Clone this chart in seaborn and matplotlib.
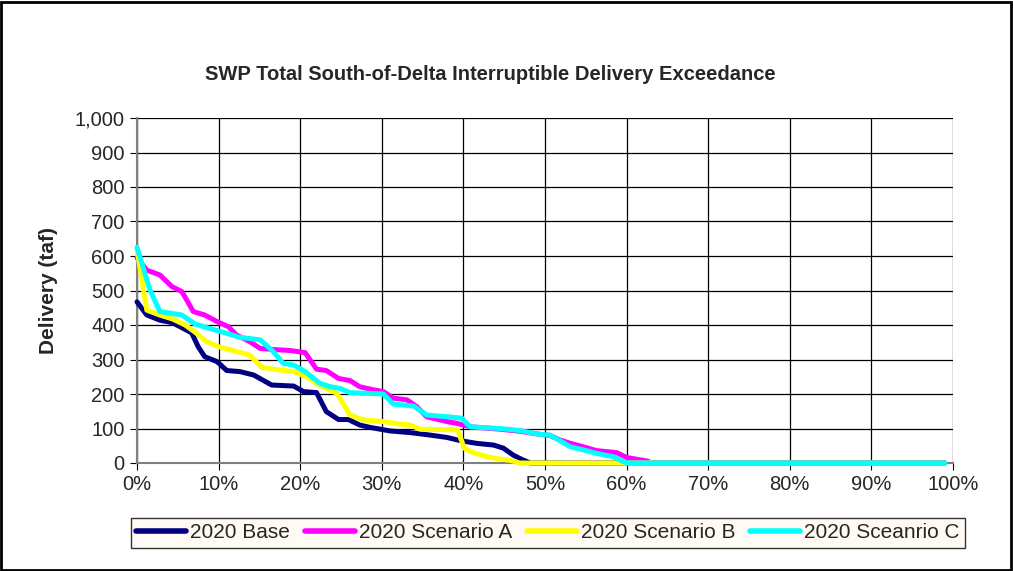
import pandas as pd
import numpy as np
import matplotlib
matplotlib.use("Agg")
import matplotlib.pyplot as plt
import matplotlib.ticker as mticker
from matplotlib.patches import Rectangle
import seaborn as sns

# exceedance (%) and delivery (taf)
base_x = [0.0, 1.2, 2.8, 4.3, 5.6, 6.7, 7.5, 8.3, 9.8, 11.0, 12.6, 14.3, 16.5, 19.2, 20.4,
          22.0, 23.2, 24.7, 25.9, 27.3, 28.6, 31.0, 33.5, 35.9, 38.0, 39.6, 41.6, 43.7,
          44.9, 46.1, 47.1, 48.2, 99.0]
base_y = [467, 429, 414, 407, 391, 377, 337, 308, 294, 268, 265, 255, 226, 223, 207,
          204, 149, 126, 126, 110, 103, 93, 88, 81, 74, 65, 57, 52,
          43, 23, 11, 0, 0]

scen_a_x = [0.0, 1.2, 2.8, 4.3, 5.5, 6.9, 8.3, 9.8, 11.2, 12.2, 13.8, 15.1, 16.7, 18.8,
            20.6, 22.0, 23.2, 24.7, 26.1, 27.3, 29.0, 30.2, 31.4, 33.1, 34.3, 35.5, 38.0,
            39.2, 40.8, 44.5, 46.9, 49.4, 50.6, 51.8, 53.1, 54.7, 56.3, 58.8, 60.0, 61.2,
            62.5, 63.1, 99.0]
scen_a_y = [595, 559, 545, 511, 497, 439, 429, 410, 395, 371, 352, 332, 329, 326,
            320, 272, 268, 245, 239, 221, 212, 207, 188, 183, 163, 134, 120,
            115, 105, 98, 92, 83, 80, 67, 57, 47, 36, 30, 16, 11,
            6, 0, 0]

scen_b_x = [0.0, 1.2, 2.8, 4.4, 5.9, 7.3, 8.5, 10.0, 11.4, 13.8, 15.3, 16.7, 19.2, 20.8,
            22.0, 23.2, 24.5, 26.1, 27.7, 30.2, 32.2, 33.5, 34.7, 39.3, 40.1, 41.2, 42.9,
            44.5, 45.7, 46.9, 99.0]
scen_b_y = [620, 443, 429, 417, 400, 376, 352, 337, 328, 313, 277, 272, 265, 250,
            231, 216, 202, 139, 125, 120, 113, 110, 98, 96, 43, 30, 18,
            11, 8, 0, 0]

scen_c_x = [0.0, 1.6, 2.8, 5.5, 7.1, 8.9, 11.0, 12.6, 15.1, 16.7, 17.9, 19.2, 20.6, 22.4,
            23.7, 24.9, 26.1, 30.2, 31.4, 33.9, 35.5, 38.0, 39.8, 40.8, 44.5, 46.9, 49.4,
            50.6, 51.8, 53.1, 54.7, 56.3, 58.4, 59.6, 60.2, 99.0]
scen_c_y = [625, 501, 439, 429, 403, 390, 376, 364, 357, 323, 289, 284, 265, 231,
            221, 216, 204, 200, 171, 165, 139, 134, 130, 105, 100, 94, 83,
            81, 65, 47, 38, 28, 18, 4, 0, 0]

series_names = ["2020 Base", "2020 Scenario A", "2020 Scenario B", "2020 Sceanrio C"]
colors = ["#000080", "#FF00FF", "#FFFF00", "#00FFFF"]

frames = []
for name, xs, ys in zip(series_names,
                        [base_x, scen_a_x, scen_b_x, scen_c_x],
                        [base_y, scen_a_y, scen_b_y, scen_c_y]):
    frames.append(pd.DataFrame({"pct": np.array(xs) / 100.0, "val": ys, "series": name}))
df = pd.concat(frames, ignore_index=True)

sns.set_style("white")
plt.rcParams["font.family"] = ["Liberation Sans", "DejaVu Sans"]

fig = plt.figure(figsize=(10.13, 5.71), dpi=100)
ax = fig.add_axes([137 / 1013, 1 - 463 / 571, (953 - 137) / 1013, (463 - 118) / 571])

sns.lineplot(data=df, x="pct", y="val", hue="series", hue_order=series_names,
             palette=colors, estimator=None, sort=False, linewidth=3.6, ax=ax)
for line in ax.get_lines():
    line.set_clip_on(False)
    line.set_zorder(5)

ax.set_xlim(0, 1)
ax.set_ylim(0, 1000)
ax.set_xticks(np.arange(0, 1.01, 0.1))
ax.set_yticks(np.arange(0, 1001, 100))
ax.xaxis.set_major_formatter(mticker.PercentFormatter(1.0, decimals=0))
ax.yaxis.set_major_formatter(mticker.FuncFormatter(lambda v, p: f"{int(v):,}"))
ax.grid(True, color="black", linewidth=0.9)
ax.set_axisbelow(True)
for side in ["top", "right"]:
    ax.spines[side].set_visible(False)
for side in ["left", "bottom"]:
    ax.spines[side].set_color("#808080")
    ax.spines[side].set_linewidth(1.5)
    ax.spines[side].set_zorder(2)
ax.tick_params(axis="both", labelsize=14.5, length=5, color="black", direction="out",
               left=True, bottom=True, pad=4)

ax.set_xlabel("")
ax.set_ylabel("Delivery (taf)", fontsize=15, fontweight="bold", labelpad=12)

fig.text(0.484, 1 - 75 / 571, "SWP Total South-of-Delta Interruptible Delivery Exceedance",
         ha="center", va="center", fontsize=14.5, fontweight="bold")

ax.get_legend().remove()
handles, labels = ax.get_legend_handles_labels()
leg = fig.legend(handles, labels, loc="center", bbox_to_anchor=(548 / 1013, 1 - 533 / 571),
                 ncol=4, fontsize=15, frameon=True, fancybox=False, handlelength=2.4,
                 handletextpad=0.2, columnspacing=0.7, borderpad=0.25, borderaxespad=0)
leg.get_frame().set_edgecolor("black")
leg.get_frame().set_facecolor("#FFFBF2")
leg.get_frame().set_linewidth(1.0)
for line in leg.get_lines():
    line.set_linewidth(4)

fig.patches.append(Rectangle((0.001, 0.002), 0.997, 0.995, transform=fig.transFigure,
                             fill=False, edgecolor="black", linewidth=2))

fig.savefig("out.png", dpi=100)
